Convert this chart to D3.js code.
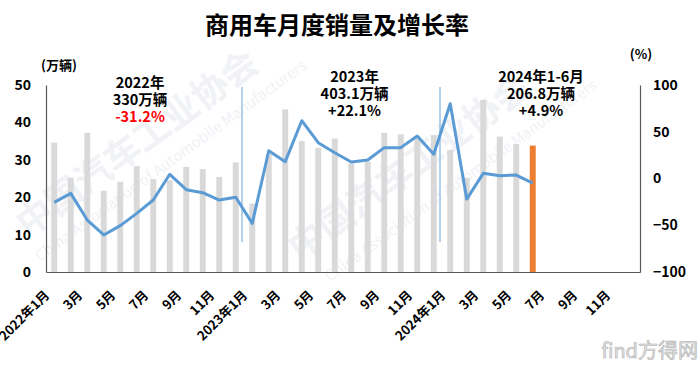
<!DOCTYPE html>
<meta charset="utf-8">
<html>
<head>
<style>
  body { margin: 0; background: #fff; }
  svg text { font-family: "Noto Sans CJK SC", "Noto Sans", sans-serif; }
</style>
<script src="https://d3js.org/d3.v7.min.js"></script>
</head>
<body>
<script>
// month labels, 2022-01 .. 2024-12
var months = [];
[2022, 2023, 2024].forEach(function(y) {
  for (var m = 1; m <= 12; m++) months.push(m == 1 ? y + "年1月" : m + "月");
});

// monthly sales (万辆), 2022-01 .. 2024-06
var sales = [34.6, 25.2, 37.2, 21.7, 24.1, 28.3, 24.8, 24.5, 28.1, 27.5, 25.4, 29.3,
             18.3, 31.5, 43.5, 35.0, 33.2, 35.7, 29.0, 29.5, 37.2, 36.8, 36.2, 36.6,
             32.6, 25.2, 46.0, 36.2, 34.2, 33.8];

// year-on-year growth (%)
var growth = [-25.5, -15.9, -44.4, -60.4, -50.4, -37.3, -23.0, 4.5, -12.0, -15.2, -23.0, -20.0,
              -48.0, 29.7, 18.0, 61.8, 38.3, 27.6, 17.6, 19.8, 33.0, 33.0, 45.5, 25.9,
              80.0, -22.0, 5.5, 3.0, 3.7, -5.0];

var leftTicks = [0, 10, 20, 30, 40, 50];
var rightTicks = [-100, -50, 0, 50, 100];

// yearly summary notes
var notes = [
  { at: 5.2, lines: ["2022年", "330万辆", "-31.2%"], base: 88, red: true },
  { at: 18.2, lines: ["2023年", "403.1万辆", "+22.1%"], base: 82, red: false },
  { at: 29.5, lines: ["2024年1-6月", "206.8万辆", "+4.9%"], base: 82, red: false }
];
var yearBreaks = [12, 24];

var W = 700, H = 366;
var plot = { left: 46, right: 640, top: 85, bottom: 272 };

var svg = d3.select("body").append("svg")
    .attr("width", W).attr("height", H);

// faint watermark
var wm = svg.append("g").attr("fill", "#f0f2f6");
wm.append("text").attr("transform", "translate(28,238) rotate(-36)")
    .attr("font-size", 36).attr("font-weight", "bold").text("中国汽车工业协会");
wm.append("text").attr("transform", "translate(40,262) rotate(-36)")
    .attr("font-size", 15).text("China Association of Automobile Manufacturers");
wm.append("text").attr("transform", "translate(300,262) rotate(-36)")
    .attr("font-size", 36).attr("font-weight", "bold").text("中国汽车工业协会");
wm.append("text").attr("transform", "translate(330,282) rotate(-36)")
    .attr("font-size", 15).text("China Association of Automobile Manufacturers");

var x = d3.scaleBand()
    .domain(d3.range(months.length))
    .range([plot.left, plot.right])
    .paddingInner(0.64)
    .paddingOuter(0.32);

var yL = d3.scaleLinear().domain([0, 50]).range([plot.bottom, plot.top]);
var yR = d3.scaleLinear().domain([-100, 100]).range([plot.bottom, plot.top]);

// title
svg.append("text")
    .attr("x", 337).attr("y", 34)
    .attr("text-anchor", "middle")
    .attr("font-size", 24).attr("font-weight", "bold")
    .text("商用车月度销量及增长率");

svg.append("text").attr("x", 59).attr("y", 70).attr("text-anchor", "middle")
    .attr("font-size", 13).attr("font-weight", "bold").text("(万辆)");
svg.append("text").attr("x", 641).attr("y", 59).attr("text-anchor", "middle")
    .attr("font-size", 13).attr("font-weight", "bold").text("(%)");

// bars
svg.append("g").selectAll("rect")
    .data(sales)
    .enter().append("rect")
    .attr("x", function(d, i) { return x(i); })
    .attr("width", x.bandwidth())
    .attr("y", function(d) { return yL(d); })
    .attr("height", function(d) { return yL(0) - yL(d); })
    .attr("fill", function(d, i) { return i == sales.length - 1 ? "#ed7d31" : "#d9d9d9"; });

// year separators
svg.append("g").selectAll("line")
    .data(yearBreaks)
    .enter().append("line")
    .attr("x1", function(d) { return x(d) - x.step() * x.paddingInner() / 2 - 2; })
    .attr("x2", function(d) { return x(d) - x.step() * x.paddingInner() / 2 - 2; })
    .attr("y1", 87).attr("y2", 242)
    .attr("stroke", "#9dc3e6").attr("stroke-width", 1.5);

// growth line
var line = d3.line()
    .x(function(d, i) { return x(i) + x.bandwidth() / 2; })
    .y(function(d) { return yR(d); });

svg.append("path")
    .datum(growth)
    .attr("d", line)
    .attr("fill", "none")
    .attr("stroke", "#5b9bd5")
    .attr("stroke-width", 3)
    .attr("stroke-linejoin", "round");

// axes
function styleAxis(g) {
  g.select(".domain").attr("stroke", "#595959").attr("stroke-width", 1.2);
  g.selectAll("text").attr("font-size", 14).attr("font-weight", "bold").attr("fill", "#000");
}

svg.append("g")
    .attr("transform", "translate(" + plot.left + ",0)")
    .call(d3.axisLeft(yL).tickValues(leftTicks).tickSize(0).tickPadding(15))
    .call(styleAxis);

svg.append("g")
    .attr("transform", "translate(" + plot.right + ",0)")
    .call(d3.axisRight(yR).tickValues(rightTicks).tickSize(0).tickPadding(13))
    .call(styleAxis);

var xa = svg.append("g")
    .attr("transform", "translate(0," + plot.bottom + ")")
    .call(d3.axisBottom(x)
        .tickValues(d3.range(0, months.length, 2))
        .tickFormat(function(i) { return months[i]; })
        .tickSize(0))
    .call(styleAxis);
xa.selectAll("text")
    .attr("font-size", 13)
    .attr("text-anchor", "end")
    .attr("dy", 0)
    .attr("y", 0)
    .attr("transform", "translate(-4,24) rotate(-45)");

// notes
notes.forEach(function(n) {
  var cx = x(Math.floor(n.at)) + x.bandwidth() / 2 + (n.at % 1) * x.step();
  n.lines.forEach(function(t, k) {
    svg.append("text")
        .attr("x", cx).attr("y", n.base + k * 16.8)
        .attr("text-anchor", "middle")
        .attr("font-size", 14.5).attr("font-weight", "bold")
        .attr("fill", (n.red && k == 2) ? "#ff0000" : "#000")
        .text(t);
  });
});

// source mark
svg.append("text")
    .attr("x", 698).attr("y", 358)
    .attr("text-anchor", "end")
    .attr("font-size", 20)
    .attr("fill", "#e3e3e3")
    .attr("stroke", "#b0b0b0").attr("stroke-width", 0.6)
    .text("find方得网");
</script>
</body>
</html>
